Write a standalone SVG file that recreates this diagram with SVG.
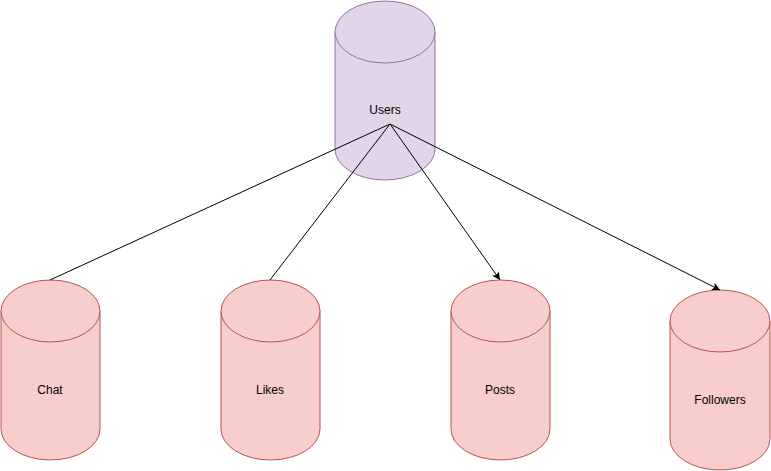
<svg xmlns="http://www.w3.org/2000/svg" width="771" height="471" viewBox="0 0 771 471">
<style>
.purple{fill:#e1d5e7;stroke:#9673a6;stroke-width:1}
.red{fill:#f8cecc;stroke:#b85450;stroke-width:1}
.lbl{font-family:"Liberation Sans",Arial,Helvetica,sans-serif;font-size:12px;fill:#000;text-anchor:middle;dominant-baseline:central}
.edge{stroke:#000;stroke-width:1;fill:none}
</style>
<defs>
<marker id="arr" viewBox="0 0 10 10" refX="10" refY="5" markerWidth="8" markerHeight="8" markerUnits="userSpaceOnUse" orient="auto">
<path d="M0,0 L10,5 L0,10 L2.5,5 Z" fill="#000"/>
</marker>
</defs>
<rect width="771" height="471" fill="#fff"/>
<g id="users">
<path class="purple" d="M335,32 A50,31 0 0 1 435,32 L435,149 A50,31 0 0 1 335,149 Z"/>
<path class="purple" d="M335,32 A50,31 0 0 0 435,32" fill="none"/>
<text class="lbl" x="385" y="110">Users</text>
</g>
<g id="chat">
<path class="red" d="M1,311 A49.5,31 0 0 1 100,311 L100,429 A49.5,31 0 0 1 1,429 Z"/>
<path class="red" d="M1,311 A49.5,31 0 0 0 100,311" fill="none"/>
<text class="lbl" x="50" y="390">Chat</text>
</g>
<g id="likes">
<path class="red" d="M221,311 A49.5,31 0 0 1 320,311 L320,429 A49.5,31 0 0 1 221,429 Z"/>
<path class="red" d="M221,311 A49.5,31 0 0 0 320,311" fill="none"/>
<text class="lbl" x="270" y="390">Likes</text>
</g>
<g id="posts">
<path class="red" d="M451,311 A49.5,31 0 0 1 550,311 L550,429 A49.5,31 0 0 1 451,429 Z"/>
<path class="red" d="M451,311 A49.5,31 0 0 0 550,311" fill="none"/>
<text class="lbl" x="500" y="390">Posts</text>
</g>
<g id="followers">
<path class="red" d="M670,321 A50,31 0 0 1 770,321 L770,439 A50,31 0 0 1 670,439 Z"/>
<path class="red" d="M670,321 A50,31 0 0 0 770,321" fill="none"/>
<text class="lbl" x="720" y="400">Followers</text>
</g>
<g id="connectors">
<path class="edge" d="M390,124 L50,280"/>
<path class="edge" d="M390,124 L270,280"/>
<path class="edge" d="M390,124 L500,280" marker-end="url(#arr)"/>
<path class="edge" d="M390,124 L720,290" marker-end="url(#arr)"/>
</g>
</svg>
